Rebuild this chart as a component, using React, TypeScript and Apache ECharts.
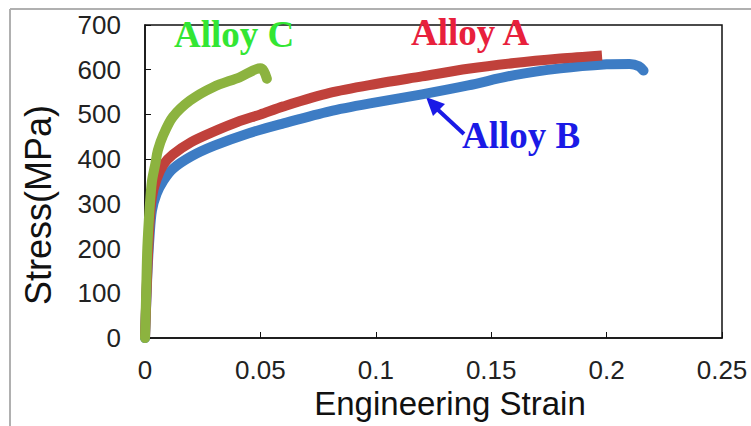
import React, { useEffect, useRef } from "react";
import * as echarts from "echarts";

// Engineering stress–strain curves (strain, stress in MPa)
const alloyAStrain = [0, 0.001, 0.002, 0.003, 0.005, 0.008, 0.012, 0.02, 0.03, 0.04, 0.05, 0.06, 0.08, 0.1, 0.12, 0.14, 0.16, 0.18, 0.198];
const alloyAStress = [0, 150, 260, 315, 355, 388, 410, 438, 462, 483, 500, 518, 548, 568, 585, 602, 615, 625, 632];

const alloyBStrain = [0, 0.001, 0.002, 0.003, 0.005, 0.008, 0.012, 0.02, 0.03, 0.045, 0.06, 0.08, 0.1, 0.12, 0.14, 0.16, 0.18, 0.2, 0.21, 0.214, 0.216];
const alloyBStress = [0, 140, 230, 285, 322, 352, 378, 406, 430, 458, 480, 507, 527, 545, 565, 588, 603, 612, 613, 608, 598];

const alloyCStrain = [0, 0.0005, 0.001, 0.002, 0.003, 0.0045, 0.0056, 0.008, 0.012, 0.0195, 0.0295, 0.041, 0.05, 0.0515, 0.0528];
const alloyCStress = [0, 100, 200, 290, 350, 390, 420, 455, 494, 531, 561, 583, 603, 597, 580];

const xTicks = [0, 0.05, 0.1, 0.15, 0.2, 0.25];
const yTicks = [0, 100, 200, 300, 400, 500, 600, 700];

const pairs = (xs: number[], ys: number[]) => xs.map((x, i) => [x, ys[i]]);

export default function App() {
  const ref = useRef<HTMLDivElement>(null);

  useEffect(() => {
    if (!ref.current) return;
    const chart = echarts.init(ref.current, null, { renderer: "svg" });
    const sans = "'Liberation Sans', Arial, sans-serif";
    const serif = "'Liberation Serif', 'Times New Roman', serif";

    chart.setOption({
      animation: false,
      backgroundColor: "#ffffff",
      grid: {
        left: 145,
        top: 25,
        width: 577,
        height: 313,
        show: true,
        borderColor: "#111",
        borderWidth: 1.5,
        backgroundColor: "transparent",
      },
      xAxis: {
        type: "value",
        min: xTicks[0],
        max: xTicks[xTicks.length - 1],
        interval: 0.05,
        axisLine: { show: true, lineStyle: { color: "#111", width: 1.5 } },
        axisTick: { show: true, inside: true, length: 6, lineStyle: { color: "#111" } },
        splitLine: { show: false },
        axisLabel: {
          margin: 19,
          fontFamily: sans,
          fontSize: 26,
          color: "#222",
          formatter: (v: number) => String(Number(v.toFixed(2))),
        },
      },
      yAxis: {
        type: "value",
        min: yTicks[0],
        max: yTicks[yTicks.length - 1],
        interval: 100,
        axisLine: { show: true, lineStyle: { color: "#111", width: 1.5 } },
        axisTick: { show: true, inside: true, length: 6, lineStyle: { color: "#111" } },
        splitLine: { show: false },
        axisLabel: { margin: 24, fontFamily: sans, fontSize: 26, color: "#222" },
      },
      series: [
        {
          name: "Alloy B",
          type: "line",
          data: pairs(alloyBStrain, alloyBStress),
          showSymbol: false,
          smooth: 0.3,
          lineStyle: { color: "#3d7cc4", width: 10, cap: "round", join: "round" },
        },
        {
          name: "Alloy A",
          type: "line",
          data: pairs(alloyAStrain, alloyAStress),
          showSymbol: false,
          smooth: 0.3,
          lineStyle: { color: "#c0413b", width: 10, cap: "butt", join: "round" },
        },
        {
          name: "Alloy C",
          type: "line",
          data: pairs(alloyCStrain, alloyCStress),
          showSymbol: false,
          smooth: 0.3,
          lineStyle: { color: "#8cb33f", width: 10, cap: "round", join: "round" },
        },
      ],
      graphic: [
        { type: "line", shape: { x1: 10, y1: 9, x2: 10, y2: 426 }, style: { stroke: "#b0b0b0", lineWidth: 2 } },
        { type: "line", shape: { x1: 10, y1: 9, x2: 751, y2: 9 }, style: { stroke: "#b0b0b0", lineWidth: 2 } },
        {
          type: "text",
          x: 450,
          y: 403,
          style: { text: "Engineering Strain", font: `33px ${sans}`, fill: "#111", textAlign: "center", textVerticalAlign: "middle" },
        },
        {
          type: "text",
          x: 38,
          y: 205,
          rotation: Math.PI / 2,
          style: { text: "Stress(MPa)", font: `36px ${sans}`, fill: "#111", textAlign: "center", textVerticalAlign: "middle" },
        },
        {
          type: "text",
          x: 174,
          y: 53,
          style: { text: "Alloy C", font: `bold 37px ${serif}`, fill: "#33e633", textVerticalAlign: "bottom" },
        },
        {
          type: "text",
          x: 411,
          y: 51,
          style: { text: "Alloy A", font: `bold 37px ${serif}`, fill: "#e8203c", textVerticalAlign: "bottom" },
        },
        {
          type: "text",
          x: 462,
          y: 154,
          style: { text: "Alloy B", font: `bold 37px ${serif}`, fill: "#1a1ae6", textVerticalAlign: "bottom" },
        },
        { type: "line", shape: { x1: 464, y1: 134, x2: 436, y2: 108 }, style: { stroke: "#1a1ae6", lineWidth: 4 } },
        { type: "polygon", shape: { points: [[426, 97], [445, 104], [433, 116]] }, style: { fill: "#1a1ae6" } },
      ],
    });

    return () => chart.dispose();
  }, []);

  return (
    <div
      ref={ref}
      style={{ position: "absolute", left: 0, top: 0, width: 751, height: 426 }}
    />
  );
}
